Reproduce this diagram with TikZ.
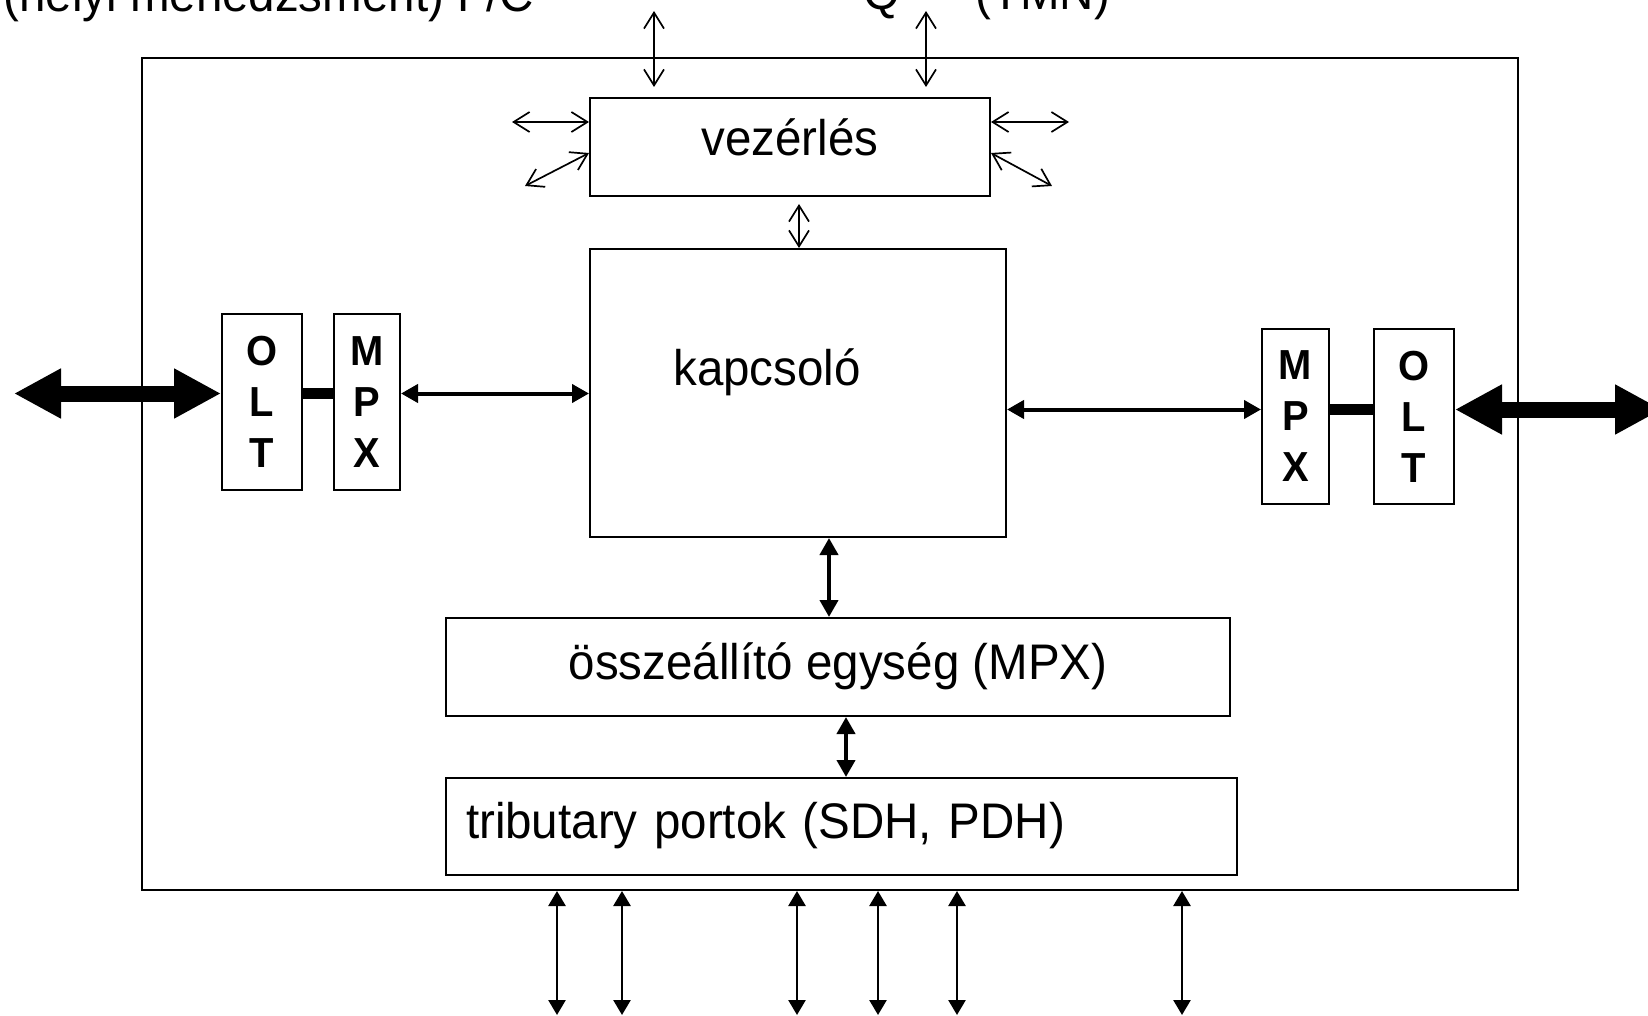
\documentclass[tikz,border=0pt]{standalone}
\usepackage{fontspec}
\setmainfont{Liberation Sans}[FakeStretch=0.95]
\usetikzlibrary{arrows.meta}
\begin{document}
\begin{tikzpicture}[x=0.5pt,y=-0.5pt,
  box/.style={draw,line width=1pt,inner sep=0pt,rectangle},
  lbl/.style={font=\fontsize{25pt}{30pt}\selectfont},
  letters/.style={box,align=center,font=\fontsize{21pt}{25.5pt}\selectfont\bfseries,minimum height=88pt},
  thinarr/.style={line width=0.85pt,{Straight Barb[length=8pt,width=10pt]}-{Straight Barb[length=8pt,width=10pt]}},
  midarr/.style={line width=2pt,{Triangle[length=8.5pt,width=9pt]}-{Triangle[length=8.5pt,width=9pt]}},
  portarr/.style={line width=1.3pt,{Triangle[length=7.5pt,width=8.5pt]}-{Triangle[length=7.5pt,width=8.5pt]}},
  fatarr/.style={line width=8pt,{Triangle[length=23.5pt,width=23.5pt]}-{Triangle[length=23.5pt,width=23.5pt]}},
  linkbar/.style={line width=5.75pt},
]
\useasboundingbox (0,0) rectangle (1648,1016);
\clip (0,0) rectangle (1648,1016);

% interface labels along the top edge
\node[lbl,anchor=base west,inner sep=0pt] (fc) at (3,12) {(helyi menedzsment) F/C};
\node[lbl,anchor=base west,inner sep=0pt] (q) at (863,10) {Q};
\node[lbl,anchor=base west,inner sep=0pt] (tmn) at (975,10) {(TMN)};

% network element frame
\node[box,minimum width=688pt,minimum height=416pt] (ne) at (830,474) {};

% functional blocks
\node[box,lbl,minimum width=200pt,minimum height=49pt,text height=14pt,text depth=5.5pt] (vez) at (790,147) {vezérlés};
\node[box,minimum width=208pt,minimum height=144pt] (kap) at (798,393) {};
\node[lbl,anchor=base,inner sep=0pt] (kaplbl) at (767,385) {kapcsoló};
\node[box,lbl,minimum width=392pt,minimum height=49pt,text height=16pt,text depth=4pt] (oss) at (838,667) {összeállító egység (MPX)};
\node[box,lbl,minimum width=395.5pt,minimum height=48.5pt,text height=16pt,text depth=4.5pt,text width=375.5pt,align=left] (trib) at (841.5,826.5) {tributary portok (SDH, PDH)};

% line side units
\node[letters,minimum width=40pt] (oltL) at (262,402) {O\\L\\T};
\node[letters,minimum width=33pt] (mpxL) at (367,402) {M\\P\\X};
\node[letters,minimum width=33.5pt,minimum height=87.5pt] (mpxR) at (1295.5,416.5) {M\\P\\X};
\node[letters,minimum width=40pt,minimum height=87.5pt] (oltR) at (1414,416.5) {O\\L\\T};

% reference rows and columns
\coordinate (rowL) at (0,393.5);
\coordinate (rowR) at (0,409.5);
\coordinate (colA) at (829,0);
\coordinate (colB) at (846,0);
\coordinate (colC) at (799,0);
\coordinate (rowS1) at (0,122);
\coordinate (rowS2) at (0,153);

% optical line connections
\coordinate (lineL) at (14,393.5);
\coordinate (lineR) at (1662,409.5);
\draw[fatarr] (lineL) -- (oltL.west |- rowL);
\draw[fatarr] (oltR.east |- rowR) -- (lineR);
\draw[linkbar] (oltL.east |- rowL) -- (mpxL.west |- rowL);
\draw[linkbar] (mpxR.east |- rowR) -- (oltR.west |- rowR);

% internal signal paths
\draw[midarr] (mpxL.east |- rowL) -- (kap.west |- rowL);
\draw[midarr] (kap.east |- rowR) -- (mpxR.west |- rowR);
\draw[midarr] (kap.south -| colA) -- (oss.north -| colA);
\draw[midarr] (oss.south -| colB) -- (trib.north -| colB);

% control connections
\draw[thinarr,shorten <=3.5pt] (vez.south -| colC) -- (kap.north -| colC);
\coordinate (qa) at (654,11);
\coordinate (qb) at (926,11);
\draw[thinarr,shorten >=5pt] (qa) -- (vez.north -| qa);
\draw[thinarr,shorten >=5pt] (qb) -- (vez.north -| qb);
\coordinate (fl1) at (512,122);
\coordinate (fl2) at (525,186);
\coordinate (fr1) at (1069,122);
\coordinate (fr2) at (1052,186);
\draw[thinarr] (fl1) -- (vez.west |- rowS1);
\draw[thinarr] (fl2) -- (vez.west |- rowS2);
\draw[thinarr] (vez.east |- rowS1) -- (fr1);
\draw[thinarr] (vez.east |- rowS2) -- (fr2);

% tributary ports
\foreach \px [count=\i] in {557,622,797,878,957,1182} {
  \coordinate (p\i) at (\px,1015);
  \draw[portarr] (ne.south -| p\i) -- (p\i);
}
\end{tikzpicture}
\end{document}
